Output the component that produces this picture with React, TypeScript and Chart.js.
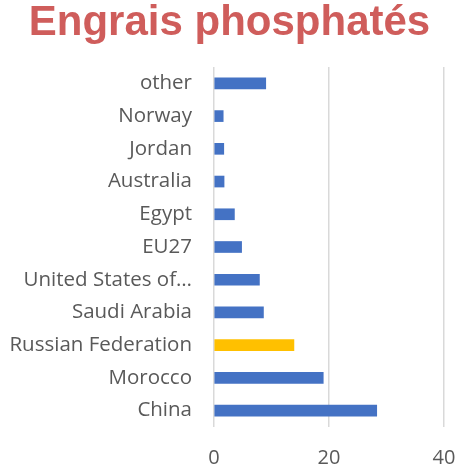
import React, { useEffect, useRef } from "react";
import { Chart, registerables } from "chart.js";

Chart.register(...registerables);

const categories = [
  "other",
  "Norway",
  "Jordan",
  "Australia",
  "Egypt",
  "EU27",
  "United States of\u2026",
  "Saudi Arabia",
  "Russian Federation",
  "Morocco",
  "China",
];
const values = [9.0, 1.6, 1.7, 1.75, 3.55, 4.8, 7.9, 8.6, 13.9, 19.0, 28.3];
const highlighted = ["Russian Federation"];
const xTicks = [0, 20, 40];
const titleText = "Engrais phosphatés";

const centerTitle = {
  id: "centerTitle",
  afterLayout(chart: any) {
    const tb = chart.titleBlock;
    if (tb) {
      tb.left = 0;
      tb.right = chart.width;
    }
  },
};

export default function App() {
  const ref = useRef<HTMLCanvasElement | null>(null);
  useEffect(() => {
    document.body.style.margin = "0";
    const canvas = ref.current;
    if (!canvas) return;
    const chart = new Chart(canvas, {
      type: "bar",
      data: {
        labels: categories,
        datasets: [
          {
            data: values,
            backgroundColor: categories.map((c) =>
              highlighted.includes(c) ? "#FFC000" : "#4472C4"
            ),
            barThickness: 11,
          },
        ],
      },
      plugins: [centerTitle],
      options: {
        indexAxis: "y",
        animation: false,
        responsive: false,
        maintainAspectRatio: false,
        layout: { padding: { left: 0, right: 15, top: 0, bottom: 0 } },
        plugins: {
          legend: { display: false },
          tooltip: { enabled: false },
          title: {
            display: true,
            text: titleText,
            color: "#CF5D5B",
            font: { family: "'Liberation Sans', Arial, sans-serif", size: 42, weight: "bold", lineHeight: 1.1 },
            padding: { top: 0, bottom: 20.8 },
          },
        },
        scales: {
          x: {
            min: xTicks[0],
            max: xTicks[xTicks.length - 1],
            afterBuildTicks: (scale: any) => {
              scale.ticks = xTicks.map((v) => ({ value: v }));
            },
            grid: {
              color: "#D9D9D9",
              lineWidth: 1.5,
              drawTicks: true,
              tickLength: 21,
              tickColor: "rgba(0,0,0,0)",
            },
            border: { display: false },
            ticks: {
              color: "#595959",
              padding: 0,
              font: { family: "'Open Sans', sans-serif", size: 20, lineHeight: 1 },
            },
            afterFit: (scale: any) => {
              scale.height = 38;
            },
          },
          y: {
            grid: { display: false, drawTicks: false },
            border: { display: false },
            ticks: {
              color: "#595959",
              padding: 22,
              font: { family: "'Open Sans', sans-serif", size: 20.5 },
            },
            afterFit: (scale: any) => {
              scale.width = 214;
            },
          },
        },
      },
    });
    return () => chart.destroy();
  }, []);
  return (
    <div style={{ width: 459, height: 465 }}>
      <canvas ref={ref} width={459} height={465} />
    </div>
  );
}
